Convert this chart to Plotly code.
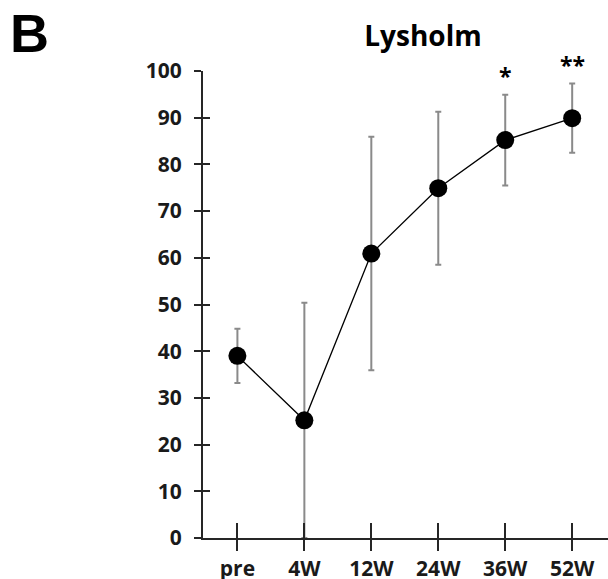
import plotly.graph_objects as go

categories = ["pre", "4W", "12W", "24W", "36W", "52W"]
means = [39.0, 25.2, 60.9, 74.9, 85.2, 89.9]
sds = [5.8, 25.2, 25.0, 16.4, 9.7, 7.4]
sig_labels = ["", "", "", "", "*", "**"]
y_ticks = [0, 10, 20, 30, 40, 50, 60, 70, 80, 90, 100]

W, H = 608, 579
ML, MR, MT, MB = 203, 0, 71, 41
plot_h = H - MT - MB
plot_w = W - ML - MR

AXIS_COLOR = "#262626"
LABEL_FONT = "Open Sans, Liberation Sans, sans-serif"

fig = go.Figure()

fig.add_trace(go.Scatter(
    x=categories, y=means,
    mode="lines+markers",
    line=dict(color="black", width=1.3),
    marker=dict(color="black", size=18, line=dict(width=0)),
    error_y=dict(type="data", array=sds, visible=True,
                 color="#8a8a8a", thickness=2, width=3),
    showlegend=False, hoverinfo="skip",
))

# invisible companion trace so the overlay axes (crossing tick marks) render
fig.add_trace(go.Scatter(
    x=categories, y=means, xaxis="x2", yaxis="y2",
    mode="markers", marker=dict(opacity=0),
    showlegend=False, hoverinfo="skip",
))

for c, m, s, lab in zip(categories, means, sds, sig_labels):
    if lab:
        fig.add_annotation(
            x=c, y=m + s, xref="x", yref="y", text=lab, showarrow=False,
            yanchor="bottom", yshift=1,
            font=dict(family=LABEL_FONT, size=23, color="black", weight="bold"),
        )

xrange = [-0.514, 5.535]
yrange = [0, 100]

fig.update_layout(
    width=W, height=H,
    margin=dict(l=ML, r=MR, t=MT, b=MB, pad=0, autoexpand=False),
    paper_bgcolor="white", plot_bgcolor="white",
    xaxis=dict(
        type="category", categoryorder="array", categoryarray=categories,
        range=xrange, showgrid=False, zeroline=False, automargin=False,
        showline=True, linecolor=AXIS_COLOR, linewidth=2,
        ticks="outside", ticklen=11, tickwidth=2, tickcolor=AXIS_COLOR,
        tickfont=dict(family=LABEL_FONT, size=21, color="#1a1a1a", weight="bold"),
        ticklabelstandoff=0,
    ),
    yaxis=dict(
        range=yrange, tickvals=y_ticks, showgrid=False, zeroline=False, automargin=False,
        showline=True, linecolor=AXIS_COLOR, linewidth=2,
        ticks="outside", ticklen=7, tickwidth=2, tickcolor=AXIS_COLOR,
        tickfont=dict(family=LABEL_FONT, size=21, color="#1a1a1a", weight="bold"),
        ticklabelstandoff=8,
    ),
    xaxis2=dict(
        type="category", categoryorder="array", categoryarray=categories,
        range=xrange, overlaying="x", side="bottom", anchor="y", automargin=False,
        showgrid=False, zeroline=False, showline=False,
        ticks="inside", ticklen=15, tickwidth=2, tickcolor=AXIS_COLOR,
        showticklabels=False,
    ),
    yaxis2=dict(
        range=yrange, tickvals=y_ticks, overlaying="y", side="left", anchor="x", automargin=False,
        showgrid=False, zeroline=False, showline=False,
        ticks="inside", ticklen=7, tickwidth=2, tickcolor=AXIS_COLOR,
        showticklabels=False,
    ),
    title=dict(
        text="Lysholm", xref="container", yref="container",
        x=423 / W, xanchor="center", y=1 - 36 / H, yanchor="middle",
        font=dict(family=LABEL_FONT, size=28, color="black", weight="bold"),
    ),
)

fig.add_annotation(
    text="B", xref="paper", yref="paper",
    x=(8 - ML) / plot_w, xanchor="left",
    y=(H - MB - 33) / plot_h, yanchor="middle",
    showarrow=False,
    font=dict(family="Liberation Sans, Arial, sans-serif", size=54, color="black", weight="bold"),
)

fig.write_html("out.html")
